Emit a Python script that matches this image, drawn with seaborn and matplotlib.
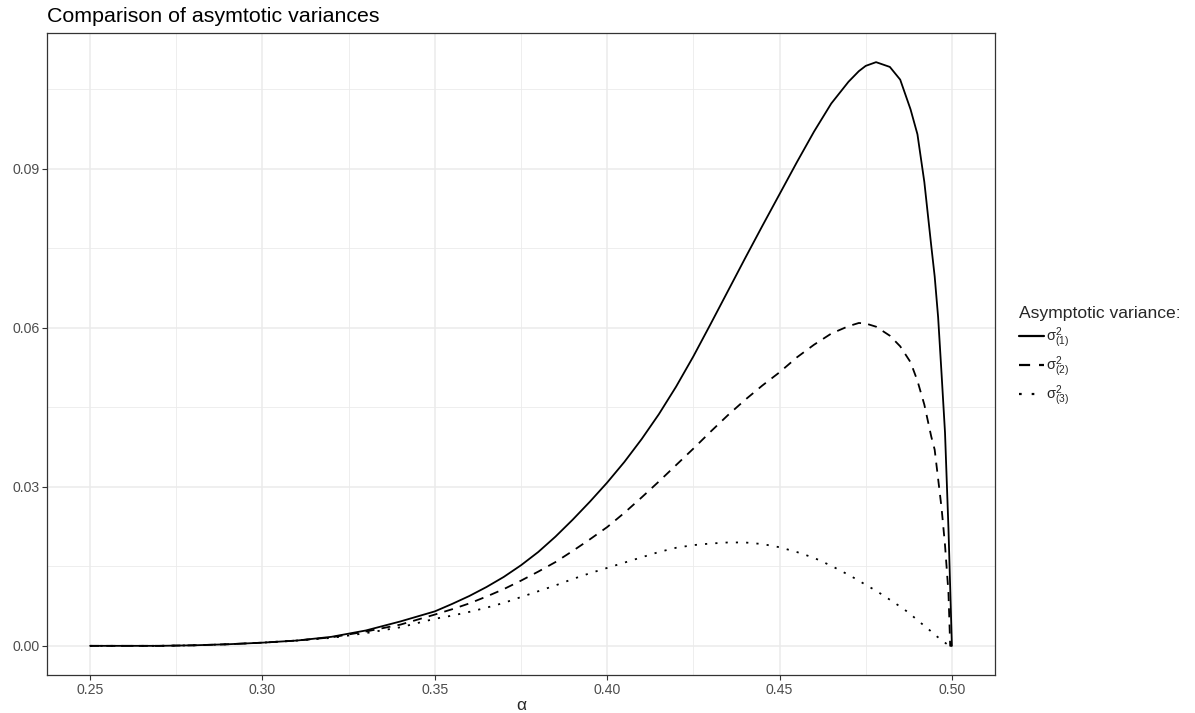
import numpy as np
import pandas as pd
import matplotlib
matplotlib.use("Agg")
import matplotlib.pyplot as plt
import seaborn as sns
from matplotlib.ticker import MultipleLocator, FormatStrFormatter

alpha = [0.25, 0.26, 0.27, 0.28, 0.29, 0.30, 0.31, 0.32, 0.33, 0.34, 0.35,
         0.355, 0.36, 0.365, 0.37, 0.375, 0.38, 0.385, 0.39, 0.395, 0.40,
         0.405, 0.41, 0.415, 0.42, 0.425, 0.43, 0.435, 0.44, 0.445, 0.45,
         0.455, 0.46, 0.465, 0.47, 0.473, 0.475, 0.478, 0.482, 0.485, 0.488,
         0.49, 0.492, 0.494, 0.495, 0.496, 0.497, 0.498, 0.499, 0.4995, 0.5]

sigma1 = [0.0, 0.0, 0.0, 0.0001, 0.0003, 0.0006, 0.0010, 0.0017, 0.0029, 0.0046, 0.0065,
          0.0079, 0.0094, 0.0111, 0.0130, 0.0152, 0.0177, 0.0206, 0.0238, 0.0272, 0.0308,
          0.0347, 0.0390, 0.0437, 0.0489, 0.0546, 0.0607, 0.0669, 0.0731, 0.0792, 0.0852,
          0.0912, 0.0970, 0.1023, 0.1064, 0.1084, 0.1094, 0.1101, 0.1092, 0.1068, 0.1012,
          0.0965, 0.0875, 0.0755, 0.0697, 0.0620, 0.0513, 0.0402, 0.0221, 0.0110, 0.0]

sigma2 = [0.0, 0.0, 0.0, 0.0001, 0.0003, 0.0006, 0.0010, 0.0016, 0.0027, 0.0040, 0.0059,
          0.0069, 0.0080, 0.0093, 0.0107, 0.0123, 0.0140, 0.0158, 0.0179, 0.0201, 0.0224,
          0.0251, 0.0280, 0.0310, 0.0341, 0.0372, 0.0404, 0.0435, 0.0464, 0.0491, 0.0516,
          0.0544, 0.0568, 0.0589, 0.0603, 0.0609, 0.0608, 0.0602, 0.0585, 0.0565, 0.0535,
          0.0500, 0.0455, 0.0395, 0.0370, 0.0315, 0.0260, 0.0190, 0.0100, 0.0, 0.0]

sigma3 = [0.0, 0.0, 0.0, 0.0001, 0.0003, 0.0006, 0.0010, 0.0015, 0.0024, 0.0035, 0.0051,
          0.0057, 0.0064, 0.0072, 0.0081, 0.0092, 0.0103, 0.0114, 0.0126, 0.0137, 0.0147,
          0.0157, 0.0167, 0.0177, 0.0185, 0.0190, 0.0193, 0.0195, 0.0195, 0.0192, 0.0186,
          0.0177, 0.0166, 0.0151, 0.0134, 0.0123, 0.0115, 0.0104, 0.0087, 0.0074, 0.0060,
          0.0048, 0.0038, 0.0027, 0.0021, 0.0016, 0.0011, 0.0006, 0.0001, 0.0, 0.0]

labels = ['σ$^{2}_{(1)}$', 'σ$^{2}_{(2)}$', 'σ$^{2}_{(3)}$']

df = pd.concat([
    pd.DataFrame({"alpha": alpha, "value": s, "series": lab})
    for s, lab in zip([sigma1, sigma2, sigma3], labels)
])

sns.set_theme(style="whitegrid")
plt.rcParams['font.family'] = ['Liberation Sans', 'DejaVu Sans']
plt.rcParams['mathtext.fontset'] = 'custom'
plt.rcParams['mathtext.rm'] = 'Liberation Sans'
plt.rcParams['mathtext.it'] = 'Liberation Sans'
plt.rcParams['mathtext.default'] = 'regular'

fig = plt.figure(figsize=(11.95, 7.13), dpi=100)
ax = fig.add_axes([47/1195, 1-675/713, (995-47)/1195, (675-33)/713])

sns.lineplot(data=df, x="alpha", y="value", style="series", color="black",
             dashes={labels[0]: "", labels[1]: (5, 4), labels[2]: (1.2, 4.5)},
             linewidth=1.3, ax=ax, sort=False, estimator=None)

ax.set_xlim(0.2375, 0.5125)
ax.set_ylim(-0.0055, 0.1156)
ax.xaxis.set_major_locator(MultipleLocator(0.05))
ax.xaxis.set_minor_locator(MultipleLocator(0.025))
ax.set_yticks([0.0, 0.03, 0.06, 0.09])
ax.yaxis.set_minor_locator(MultipleLocator(0.015))
ax.xaxis.set_major_formatter(FormatStrFormatter('%.2f'))
ax.yaxis.set_major_formatter(FormatStrFormatter('%.2f'))

ax.set_facecolor("white")
ax.grid(which="major", color="#ebebeb", linewidth=1.1)
ax.grid(which="minor", color="#ebebeb", linewidth=0.6)
ax.set_axisbelow(True)
for sp in ax.spines.values():
    sp.set_color("#333333")
    sp.set_linewidth(0.9)
ax.tick_params(axis="both", which="major", length=3.5, width=0.8, color="#333333",
               labelcolor="#4d4d4d", labelsize=10.2, pad=2, bottom=True, left=True)
ax.tick_params(axis="both", which="minor", length=0)

ax.set_xlabel("α", fontsize=12.5, labelpad=1)
ax.set_ylabel("")
fig.text(47/1195, 1-16/713, "Comparison of asymtotic variances", fontsize=15.4,
         ha="left", va="center", color="black")

handles, labs = ax.get_legend_handles_labels()
leg = ax.legend(handles, labs, title="Asymptotic variance:", loc="center left",
                bbox_to_anchor=(1.015, 0.495), frameon=False, fontsize=10.5,
                title_fontsize=12.6, handlelength=1.7, handletextpad=0.15,
                labelspacing=0.3, alignment="left", borderaxespad=0.3)
for line in leg.get_lines():
    line.set_linewidth(1.6)

fig.savefig("out.png", dpi=100)
